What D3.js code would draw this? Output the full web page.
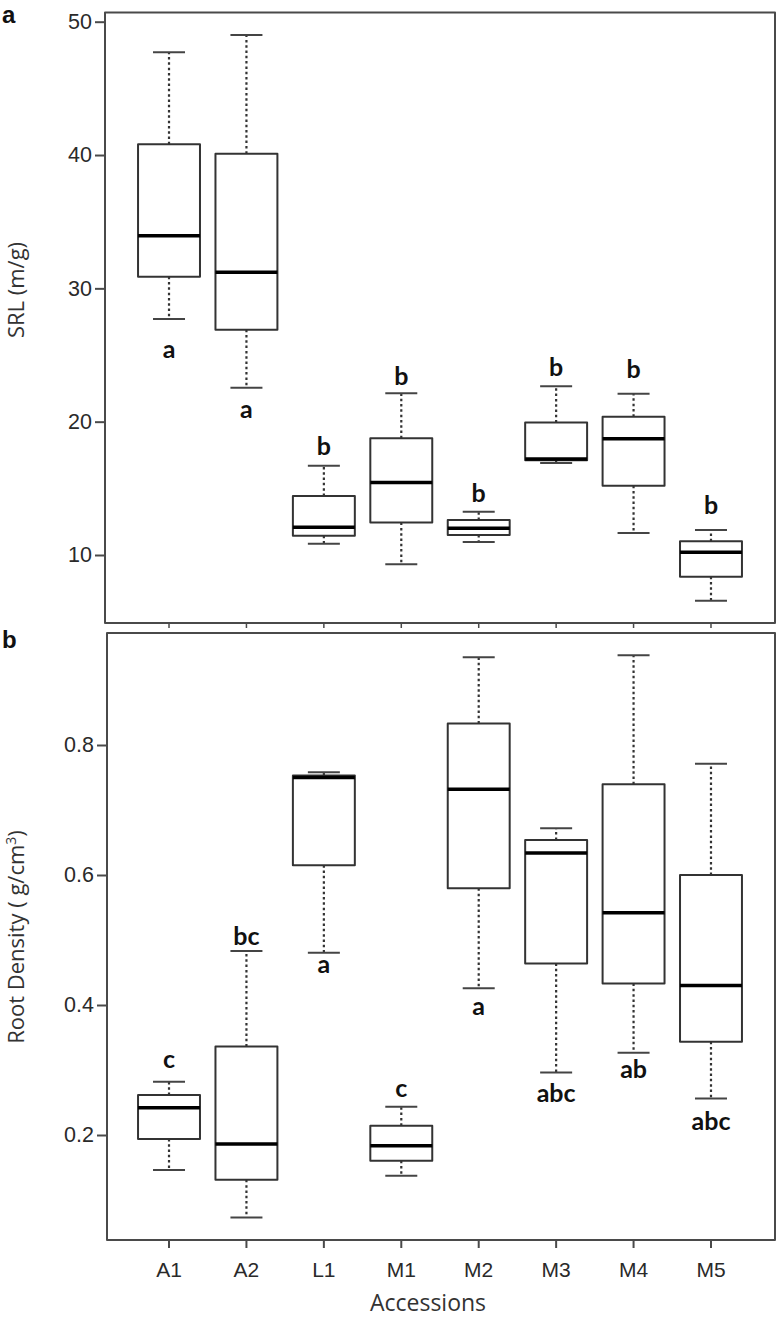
<!DOCTYPE html>
<html>
<head>
<meta charset="utf-8">
<script src="https://cdn.jsdelivr.net/npm/d3@7"></script>
<style>
  html, body { margin: 0; padding: 0; background: #fff; }
  svg { display: block; }
</style>
</head>
<body>
<svg id="chart" width="779" height="1320"></svg>
<script>
// ---------- data ----------
const categories = ["A1", "A2", "L1", "M1", "M2", "M3", "M4", "M5"];

// Panel a: SRL (m/g)
const srlMin    = [27.7, 22.55, 10.85, 9.3, 10.98, 16.9, 11.65, 6.57];
const srlQ1     = [30.87, 26.9, 11.45, 12.43, 11.5, 17.1, 15.2, 8.37];
const srlMedian = [33.95, 31.2, 12.08, 15.43, 12.0, 17.2, 18.72, 10.2];
const srlQ3     = [40.8, 40.1, 14.43, 18.75, 12.63, 19.93, 20.37, 11.03];
const srlMax    = [47.7, 49.0, 16.7, 22.13, 13.25, 22.65, 22.1, 11.88];
const srlLetters  = ["a", "a", "b", "b", "b", "b", "b", "b"];
const srlLetterAt = [24.8, 20.3, 17.5, 22.75, 14.0, 23.4, 23.3, 13.1];
const srlTicks = [10, 20, 30, 40, 50];

// Panel b: Root density (g/cm3)
const rdMin    = [0.146, 0.073, 0.4805, 0.1374, 0.4257, 0.296, 0.3266, 0.256];
const rdQ1     = [0.194, 0.131, 0.615, 0.1605, 0.5795, 0.464, 0.433, 0.3435];
const rdMedian = [0.242, 0.186, 0.750, 0.1835, 0.732, 0.634, 0.542, 0.430];
const rdQ3     = [0.2615, 0.336, 0.753, 0.2143, 0.833, 0.654, 0.7395, 0.600];
const rdMax    = [0.282, 0.483, 0.758, 0.2435, 0.935, 0.672, 0.938, 0.771];
const rdLetters  = ["c", "bc", "a", "c", "a", "abc", "ab", "abc"];
const rdLetterAt = [0.303, 0.493, 0.449, 0.259, 0.385, 0.251, 0.287, 0.208];
const rdTicks = [0.2, 0.4, 0.6, 0.8];

// ---------- drawing ----------
const svg = d3.select("#chart");

const x = d3.scaleBand().domain(categories).range([130.3, 749.7]).padding(0);
const boxW = x.bandwidth() * 0.8;
const capW = 32;

const frameColor = "#4a4a4a";
const lineColor = "#333";

function panel(cfg) {
  const { left, right, top, bottom, y, ticks, tickFmt, mins, q1, med, q3, maxs, letters, letterAt, showLabels, title, titleX, titleY, panelLabel, panelLabelY } = cfg;
  const g = svg.append("g");
  const rows = categories.map((c, i) => ({ c, min: mins[i], q1: q1[i], med: med[i], q3: q3[i], max: maxs[i], letter: letters[i], at: letterAt[i] }));

  // frame
  g.append("rect")
    .attr("x", left).attr("y", top)
    .attr("width", right - left).attr("height", bottom - top)
    .attr("fill", "none").attr("stroke", frameColor).attr("stroke-width", 2)
    .attr("stroke-linejoin", "round");

  // y axis
  const yAxis = d3.axisLeft(y).tickValues(ticks).tickSize(10).tickPadding(3).tickFormat(tickFmt);
  const ya = g.append("g").attr("transform", `translate(${left},0)`).call(yAxis);
  ya.select(".domain").remove();
  ya.selectAll(".tick line").attr("stroke", frameColor).attr("stroke-width", 2);
  ya.selectAll(".tick text")
    .attr("font-family", "'Liberation Sans', Arial, sans-serif")
    .attr("font-size", 21.5).attr("fill", "#2a2a2a");

  // x axis
  const xAxis = d3.axisBottom(x).tickSize(showLabels ? 8 : 5).tickPadding(14)
    .tickFormat(showLabels ? (d => d) : (() => ""));
  const xa = g.append("g").attr("transform", `translate(0,${bottom})`).call(xAxis);
  xa.select(".domain").remove();
  xa.selectAll(".tick line").attr("stroke", frameColor).attr("stroke-width", showLabels ? 2 : 1.5);
  xa.selectAll(".tick text")
    .attr("font-family", "'Liberation Sans', Arial, sans-serif")
    .attr("font-size", 21).attr("fill", "#2a2a2a");

  const box = g.selectAll(".box").data(rows).join("g").attr("class", "box")
    .attr("transform", d => `translate(${x(d.c) + x.bandwidth() / 2},0)`);

  // whiskers (dotted)
  box.append("line").attr("x1", 0).attr("x2", 0)
    .attr("y1", d => y(d.q3)).attr("y2", d => y(d.max))
    .attr("stroke", lineColor).attr("stroke-width", 2.2).attr("stroke-dasharray", "2.5,2.8");
  box.append("line").attr("x1", 0).attr("x2", 0)
    .attr("y1", d => y(d.q1)).attr("y2", d => y(d.min))
    .attr("stroke", lineColor).attr("stroke-width", 2.2).attr("stroke-dasharray", "2.5,2.8");
  // caps
  box.append("line").attr("x1", -capW / 2).attr("x2", capW / 2)
    .attr("y1", d => y(d.max)).attr("y2", d => y(d.max))
    .attr("stroke", "#444").attr("stroke-width", 2);
  box.append("line").attr("x1", -capW / 2).attr("x2", capW / 2)
    .attr("y1", d => y(d.min)).attr("y2", d => y(d.min))
    .attr("stroke", "#444").attr("stroke-width", 2);
  // box
  box.append("rect")
    .attr("x", -boxW / 2).attr("width", boxW)
    .attr("y", d => y(d.q3)).attr("height", d => y(d.q1) - y(d.q3))
    .attr("fill", "#fff").attr("stroke", lineColor).attr("stroke-width", 2)
    .attr("stroke-linejoin", "round");
  // median
  box.append("line").attr("x1", -boxW / 2).attr("x2", boxW / 2)
    .attr("y1", d => y(d.med)).attr("y2", d => y(d.med))
    .attr("stroke", "#000").attr("stroke-width", 3.5);
  // letters
  box.append("text").attr("x", 0).attr("y", d => y(d.at))
    .attr("text-anchor", "middle")
    .attr("font-family", "Lato, 'Open Sans', sans-serif")
    .attr("font-weight", "bold").attr("font-size", 25).attr("fill", "#111")
    .text(d => d.letter);

  // y title
  const t = g.append("text")
    .attr("transform", `translate(${titleX},${titleY}) rotate(-90)`)
    .attr("text-anchor", "middle")
    .attr("font-family", "'Open Sans', 'Noto Sans', sans-serif")
    .attr("font-size", 22).attr("fill", "#333");
  title(t);

  // panel label
  g.append("text").attr("x", 2).attr("y", panelLabelY)
    .attr("font-family", "'Liberation Sans', Arial, sans-serif")
    .attr("font-weight", "bold").attr("font-size", 24).attr("fill", "#111")
    .text(panelLabel);
}

const yA = d3.scaleLinear().domain([10, 50]).range([555, 21.7]);
panel({
  left: 105, right: 775, top: 12.5, bottom: 623, y: yA, ticks: srlTicks,
  tickFmt: d3.format("d"),
  mins: srlMin, q1: srlQ1, med: srlMedian, q3: srlQ3, maxs: srlMax,
  letters: srlLetters, letterAt: srlLetterAt, showLabels: false,
  title: t => t.text("SRL (m/g)"), titleX: 24, titleY: 290,
  panelLabel: "a", panelLabelY: 23
});

const yB = d3.scaleLinear().domain([0.2, 0.8]).range([1135, 745]);
panel({
  left: 107, right: 775, top: 633, bottom: 1240, y: yB, ticks: rdTicks,
  tickFmt: d3.format(".1f"),
  mins: rdMin, q1: rdQ1, med: rdMedian, q3: rdQ3, maxs: rdMax,
  letters: rdLetters, letterAt: rdLetterAt, showLabels: true,
  title: t => {
    t.append("tspan").text("Root Density ( g/cm");
    t.append("tspan").attr("dy", -8).attr("font-size", 14).text("3");
    t.append("tspan").attr("dy", 8).text(")");
  },
  titleX: 24, titleY: 937,
  panelLabel: "b", panelLabelY: 648
});

// x title
svg.append("text").attr("x", 428).attr("y", 1311)
  .attr("text-anchor", "middle")
  .attr("font-family", "'Open Sans', 'Noto Sans', sans-serif")
  .attr("font-size", 23).attr("fill", "#333")
  .text("Accessions");
</script>
</body>
</html>
